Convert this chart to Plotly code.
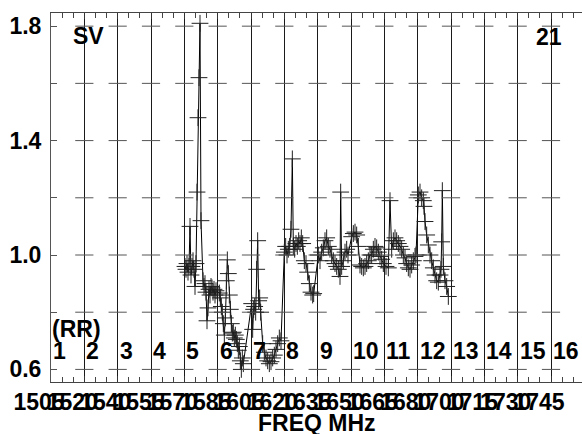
import plotly.graph_objects as go

# ---- data (channel-axis position, SV ratio) ----
freq_pos = [
    4.02, 4.05, 4.08, 4.11, 4.14, 4.17, 4.20, 4.23, 4.26, 4.29, 4.32, 4.35, 4.38, 4.41, 4.44, 4.47, 4.50,
    4.56, 4.59, 4.62, 4.65, 4.68, 4.71, 4.74, 4.77, 4.80, 4.83, 4.86, 4.89, 4.92, 4.95,
    5.05, 5.08, 5.11, 5.14, 5.17, 5.20, 5.23, 5.26, 5.29, 5.32, 5.35, 5.38, 5.41, 5.44, 5.47, 5.50,
    5.53, 5.56, 5.59, 5.62, 5.65, 5.68, 5.71, 5.74, 5.77,
    6.02, 6.05, 6.08, 6.11, 6.14, 6.17, 6.20, 6.23, 6.26, 6.29, 6.35, 6.40, 6.45, 6.50, 6.55, 6.60,
    6.65, 6.70, 6.75, 6.80, 6.85, 6.90,
    7.00, 7.04, 7.08, 7.12, 7.16, 7.20, 7.24, 7.27, 7.31, 7.35, 7.39, 7.43, 7.47, 7.51, 7.55, 7.60,
    7.65, 7.70, 7.75, 7.80, 7.85, 7.88,
    8.02, 8.07, 8.12, 8.17, 8.22, 8.27, 8.32, 8.37, 8.42, 8.47, 8.52, 8.57, 8.62, 8.67, 8.69, 8.72,
    8.77, 8.82, 8.87, 8.91,
    9.02, 9.07, 9.12, 9.17, 9.22, 9.27, 9.32, 9.37, 9.42, 9.47, 9.52, 9.57, 9.62, 9.67, 9.72, 9.77,
    9.82, 9.87, 9.92, 9.97,
    10.05, 10.12, 10.17, 10.22, 10.27, 10.32, 10.37, 10.42, 10.47, 10.52, 10.57, 10.62, 10.67, 10.72,
    10.77, 10.82, 10.87, 10.92, 10.95,
    11.02, 11.07, 11.12, 11.17, 11.19, 11.22, 11.27, 11.32, 11.37, 11.42, 11.47, 11.52, 11.57, 11.62,
    11.67, 11.70, 11.72, 11.74, 11.77, 11.82, 11.87, 11.92,
]
sv_ratio = [
    0.96, 0.95, 0.97, 0.94, 0.96, 1.10, 0.93, 0.96, 0.98, 0.95, 0.89, 0.97, 1.22, 1.48, 1.62, 1.81, 1.12,
    0.91, 0.89, 0.90, 0.87, 0.77, 0.815, 0.88, 0.86, 0.89, 0.885, 0.87, 0.88, 0.86, 0.875,
    0.867, 0.85, 0.82, 0.80, 0.76, 0.72, 0.78, 0.91, 0.983, 0.935, 0.86, 0.81, 0.76, 0.727, 0.73, 0.71,
    0.72, 0.705, 0.69, 0.667, 0.68, 0.63, 0.60, 0.64, 0.62,
    0.83, 0.74, 0.81, 0.82, 0.80, 0.95, 1.05, 0.84, 0.85, 0.80, 0.69, 0.66, 0.64, 0.63, 0.62, 0.627,
    0.64, 0.65, 0.67, 0.69, 0.71, 0.70,
    1.01, 1.03, 1.00, 1.02, 1.03, 1.09, 1.336, 1.03, 1.02, 1.04, 1.03, 1.05, 1.04, 1.06, 1.04, 0.98,
    0.97, 0.94, 0.90, 0.87, 0.86, 0.865,
    1.00, 0.98, 1.01, 1.025, 1.05, 1.06, 1.03, 1.02, 1.00, 0.98, 0.97, 0.96, 0.95, 0.925, 1.22, 0.96,
    0.98, 1.01, 1.02, 1.00,
    1.064, 1.075, 1.08, 1.07, 1.03, 0.965, 0.96, 0.955, 0.96, 0.97, 0.98, 1.00, 1.00, 1.02, 1.03, 1.025,
    1.01, 0.995, 0.985, 0.97,
    0.96, 0.955, 1.19, 1.02, 1.05, 1.06, 1.05, 1.04, 1.03, 1.02, 1.00, 0.99, 0.97, 0.955,
    0.95, 0.965, 0.98, 0.995, 1.00,
    1.21, 1.22, 1.20, 1.19, 1.17, 1.117, 1.07, 1.035, 1.00, 0.98, 0.955, 0.93, 0.91, 0.905,
    0.93, 0.95, 1.046, 1.225, 0.96, 0.91, 0.89, 0.855,
]

tick_pos = list(range(16))
tick_labels = ["1505", "1520", "1540", "1555", "1570", "1585", "1605", "1620",
               "1635", "1650", "1665", "1680", "1700", "1715", "1730", "1745"]
channel_labels = [str(i) for i in range(1, 17)]
grid_lines = list(range(1, 17))
grid_levels = [0.6, 0.8, 1.0, 1.2, 1.4, 1.6, 1.8]
y_ticks = [0.6, 1.0, 1.4, 1.8]
y_tick_labels = ["0.6", "1.0", "1.4", "1.8"]

FONT = "Liberation Sans"
FS = 23
XR = [0, 15.93]
YR = [0.556, 1.846]

fig = go.Figure()

# small horizontal ticks across every vertical grid line
gx, gy = [], []
for g in grid_lines:
    for lv in grid_levels:
        gx.append(g)
        gy.append(lv)
fig.add_trace(go.Scatter(
    x=gx, y=gy, mode="markers", xaxis="x2", yaxis="y",
    marker=dict(symbol="line-ew-open", size=13, color="#555",
                line=dict(color="#555", width=1)),
    cliponaxis=False, hoverinfo="skip", showlegend=False))

fig.add_trace(go.Scatter(
    x=freq_pos, y=sv_ratio, mode="lines+markers",
    line=dict(color="black", width=1),
    marker=dict(symbol="cross-thin-open", size=12, color="#202020",
                line=dict(color="#202020", width=1)),
    showlegend=False))

ann = []
for k, lab in zip(tick_pos, channel_labels):
    ann.append(dict(x=k, y=0.0827, xref="x", yref="paper", text=f"<b>{lab}</b>",
                    showarrow=False, xanchor="left", yanchor="middle", xshift=0,
                    font=dict(family=FONT, size=FS, color="black")))
ann.append(dict(x=0, y=0.1436, xref="x", yref="paper", text="<b>(RR)</b>",
                showarrow=False, xanchor="left", yanchor="middle", xshift=-1,
                font=dict(family=FONT, size=FS, color="black")))
ann.append(dict(x=0.07, y=0.937, xref="paper", yref="paper", text="<b>SV</b>",
                showarrow=False, xanchor="center", yanchor="middle",
                font=dict(family=FONT, size=FS, color="black")))
ann.append(dict(x=0.937, y=0.934, xref="paper", yref="paper", text="<b>21</b>",
                showarrow=False, xanchor="center", yanchor="middle",
                font=dict(family=FONT, size=FS, color="black")))
ann.append(dict(x=0.5, y=-0.111, xref="paper", yref="paper", text="<b>FREQ MHz</b>",
                showarrow=False, xanchor="center", yanchor="middle",
                font=dict(family=FONT, size=FS, color="black")))

fig.update_layout(
    width=582, height=434,
    margin=dict(l=51, r=0, t=13, b=52),
    paper_bgcolor="white", plot_bgcolor="white",
    font=dict(family=FONT, size=FS, color="black"),
    annotations=ann,
    xaxis=dict(
        range=XR, tickmode="array", tickvals=tick_pos,
        ticktext=[f"<b>{t}</b>" for t in tick_labels],
        tickangle=0, ticks="inside", ticklen=6, tickcolor="#333",
        ticklabelshift=-12, ticklabelstandoff=-1, automargin=False,
        showline=True, linecolor="#444", linewidth=1,
        showgrid=True, gridcolor="#1a1a1a", gridwidth=1, zeroline=False,
        tickfont=dict(family=FONT, size=FS, color="black"),
        minor=dict(tickmode="linear", tick0=0, dtick=1/3, ticks="inside", ticklen=5,
                   tickcolor="#444", showgrid=False),
    ),
    xaxis2=dict(
        range=XR, overlaying="x", side="top", showticklabels=False, automargin=False,
        tickmode="array", tickvals=tick_pos, ticks="inside", ticklen=6, tickcolor="#333",
        showline=True, linecolor="#444", linewidth=1, showgrid=False, zeroline=False,
        minor=dict(tickmode="linear", tick0=0, dtick=1/3, ticks="inside", ticklen=5,
                   tickcolor="#444", showgrid=False),
    ),
    yaxis=dict(
        range=YR, tickmode="array", tickvals=y_ticks,
        ticktext=[f"<b>{t}</b>" for t in y_tick_labels],
        ticks="inside", ticklen=6, tickcolor="#555", automargin=False,
        ticklabelstandoff=4,
        showline=True, linecolor="#555", linewidth=1,
        showgrid=False, zeroline=False,
        tickfont=dict(family=FONT, size=FS, color="black"),
        minor=dict(tickmode="linear", tick0=0, dtick=0.2, ticks="inside", ticklen=6,
                   tickcolor="#555", showgrid=False),
    ),
)

fig.write_html("out.html", config={"displayModeBar": False},
               post_script="document.body.style.margin='0';document.body.style.overflow='hidden';")
